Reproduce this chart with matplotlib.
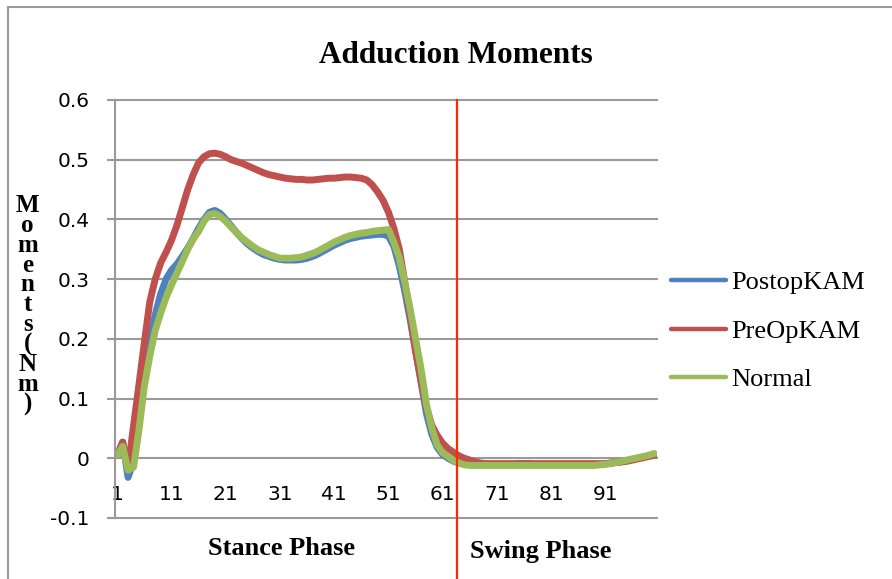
import matplotlib.pyplot as plt
from matplotlib.lines import Line2D

# Gait cycle, % (1..100)
phase = list(range(1, 101))

postop_kam = [
    0.005, 0.027, -0.032, -0.005, 0.06, 0.13, 0.19, 0.24, 0.275, 0.30,
    0.315, 0.325, 0.338, 0.352, 0.368, 0.385, 0.40, 0.412, 0.415, 0.41,
    0.40, 0.389, 0.378, 0.368, 0.359, 0.352, 0.346, 0.341, 0.338, 0.335,
    0.333, 0.332, 0.332, 0.332, 0.333, 0.335, 0.338, 0.342, 0.347, 0.352,
    0.357, 0.361, 0.365, 0.368, 0.37, 0.372, 0.373, 0.374, 0.375, 0.375,
    0.372, 0.355, 0.322, 0.28, 0.232, 0.18, 0.128, 0.075, 0.04, 0.018,
    0.006, 0.0, -0.005, -0.008, -0.009, -0.01, -0.01, -0.01, -0.01, -0.01,
    -0.01, -0.01, -0.01, -0.01, -0.009, -0.009, -0.009, -0.01, -0.01, -0.01,
    -0.01, -0.01, -0.01, -0.01, -0.01, -0.01, -0.01, -0.01, -0.01, -0.01,
    -0.009, -0.008, -0.007, -0.006, -0.004, -0.002, 0.0, 0.002, 0.004, 0.006,
]

preop_kam = [
    0.005, 0.027, -0.017, 0.054, 0.123, 0.194, 0.262, 0.30, 0.327, 0.345,
    0.365, 0.39, 0.42, 0.45, 0.475, 0.495, 0.505, 0.51, 0.511, 0.509,
    0.505, 0.50, 0.497, 0.494, 0.49, 0.486, 0.482, 0.478, 0.475, 0.473,
    0.471, 0.469, 0.468, 0.467, 0.467, 0.466, 0.466, 0.467, 0.468, 0.469,
    0.469, 0.47, 0.471, 0.471, 0.47, 0.469, 0.466, 0.458, 0.446, 0.432,
    0.412, 0.385, 0.35, 0.295, 0.24, 0.18, 0.13, 0.085, 0.055, 0.038,
    0.025, 0.016, 0.01, 0.004, 0.0, -0.003, -0.006, -0.008, -0.009, -0.009,
    -0.009, -0.009, -0.009, -0.009, -0.009, -0.009, -0.009, -0.009, -0.009, -0.009,
    -0.009, -0.009, -0.009, -0.009, -0.009, -0.009, -0.009, -0.009, -0.009, -0.009,
    -0.009, -0.008, -0.007, -0.006, -0.005, -0.003, -0.001, 0.001, 0.003, 0.005,
]

normal = [
    0.005, 0.02, -0.02, -0.015, 0.047, 0.121, 0.171, 0.214, 0.243, 0.269,
    0.29, 0.31, 0.33, 0.35, 0.367, 0.38, 0.397, 0.408, 0.41, 0.405,
    0.397, 0.387, 0.378, 0.369, 0.362, 0.355, 0.349, 0.345, 0.341, 0.338,
    0.335, 0.335, 0.335, 0.336, 0.337, 0.34, 0.343, 0.347, 0.352, 0.357,
    0.362, 0.366, 0.37, 0.373, 0.375, 0.377, 0.378, 0.38, 0.381, 0.382,
    0.383, 0.362, 0.336, 0.295, 0.25, 0.2, 0.15, 0.09, 0.05, 0.022,
    0.009, 0.003, -0.004, -0.008, -0.011, -0.012, -0.012, -0.012, -0.012, -0.012,
    -0.012, -0.012, -0.012, -0.012, -0.012, -0.012, -0.012, -0.012, -0.012, -0.012,
    -0.012, -0.012, -0.012, -0.012, -0.012, -0.012, -0.012, -0.012, -0.012, -0.011,
    -0.01, -0.009, -0.007, -0.005, -0.003, -0.001, 0.001, 0.003, 0.005, 0.008,
]

x_ticks = list(range(1, 100, 10))
y_ticks = [-0.1, 0, 0.1, 0.2, 0.3, 0.4, 0.5, 0.6]
swing_start = 63.6

blue = "#4F81BD"
red = "#C0504D"
green = "#9BBB59"
grid_gray = "#9a9a9a"
serif = "Liberation Serif"

fig = plt.figure(figsize=(8.92, 5.79), dpi=100)
ax = fig.add_axes([0.1284, 0.1054, 0.6081, 0.7219])

line_kw = dict(lw=5.0, solid_capstyle="round", solid_joinstyle="round")
ax.plot(phase, postop_kam, color=blue, **line_kw)
ax.plot(phase, preop_kam, color=red, **line_kw)
ax.plot(phase, normal, color=green, **line_kw)

# stance / swing boundary
ax.axvline(swing_start, ymin=-0.16, ymax=1, color="#ff2a00", lw=1.6, clip_on=False)

ax.set_xlim(0.5, 100.5)
ax.set_ylim(-0.1, 0.6)
ax.set_yticks(y_ticks)
ax.set_yticklabels(["-0.1", "0", "0.1", "0.2", "0.3", "0.4", "0.5", "0.6"])
ax.set_xticks(x_ticks)

ax.yaxis.grid(True, color=grid_gray, lw=1.5)
for gl in ax.get_ygridlines():
    gl.set_clip_on(False)
ax.set_axisbelow(True)

for side in ["top", "right"]:
    ax.spines[side].set_visible(False)
ax.spines["left"].set_color(grid_gray)
ax.spines["left"].set_linewidth(1.5)
# category labels sit under the zero line, as Excel does
ax.spines["bottom"].set_position(("data", 0))
ax.spines["bottom"].set_visible(False)

ax.tick_params(axis="y", length=6, width=1.5, color=grid_gray, pad=12,
               labelsize=14.5)
ax.tick_params(axis="x", length=0, pad=19, labelsize=14.5)

fig.text(0.511, 0.905, "Adduction Moments", ha="center", va="center",
         family=serif, weight="bold", fontsize=22.5)
fig.text(0.031, 0.473, "\n".join("Moments(Nm)"), ha="center", va="center",
         family=serif, weight="bold", fontsize=18, linespacing=0.82)
fig.text(0.316, 0.0535, "Stance Phase", ha="center", va="center",
         family=serif, weight="bold", fontsize=19)
fig.text(0.6065, 0.048, "Swing Phase", ha="center", va="center",
         family=serif, weight="bold", fontsize=19)

handles = [Line2D([], [], color=c, lw=3.2, solid_capstyle="round")
           for c in (blue, red, green)]
fig.legend(handles, ["PostopKAM", "PreOpKAM", "Normal"],
           loc="center left", bbox_to_anchor=(0.752, 0.428),
           frameon=False, prop={"family": serif, "size": 19},
           handlelength=2.1, handletextpad=0.2, labelspacing=0.95,
           borderpad=0, borderaxespad=0)

# outer chart border (only top and left edges are in frame)
fig.add_artist(Line2D([8 / 892, 1.0], [1 - 7 / 579, 1 - 7 / 579],
                      color=grid_gray, lw=1.5, transform=fig.transFigure))
fig.add_artist(Line2D([8 / 892, 8 / 892], [0.0, 1 - 7 / 579],
                      color=grid_gray, lw=1.5, transform=fig.transFigure))

fig.savefig("out.png", dpi=100)
